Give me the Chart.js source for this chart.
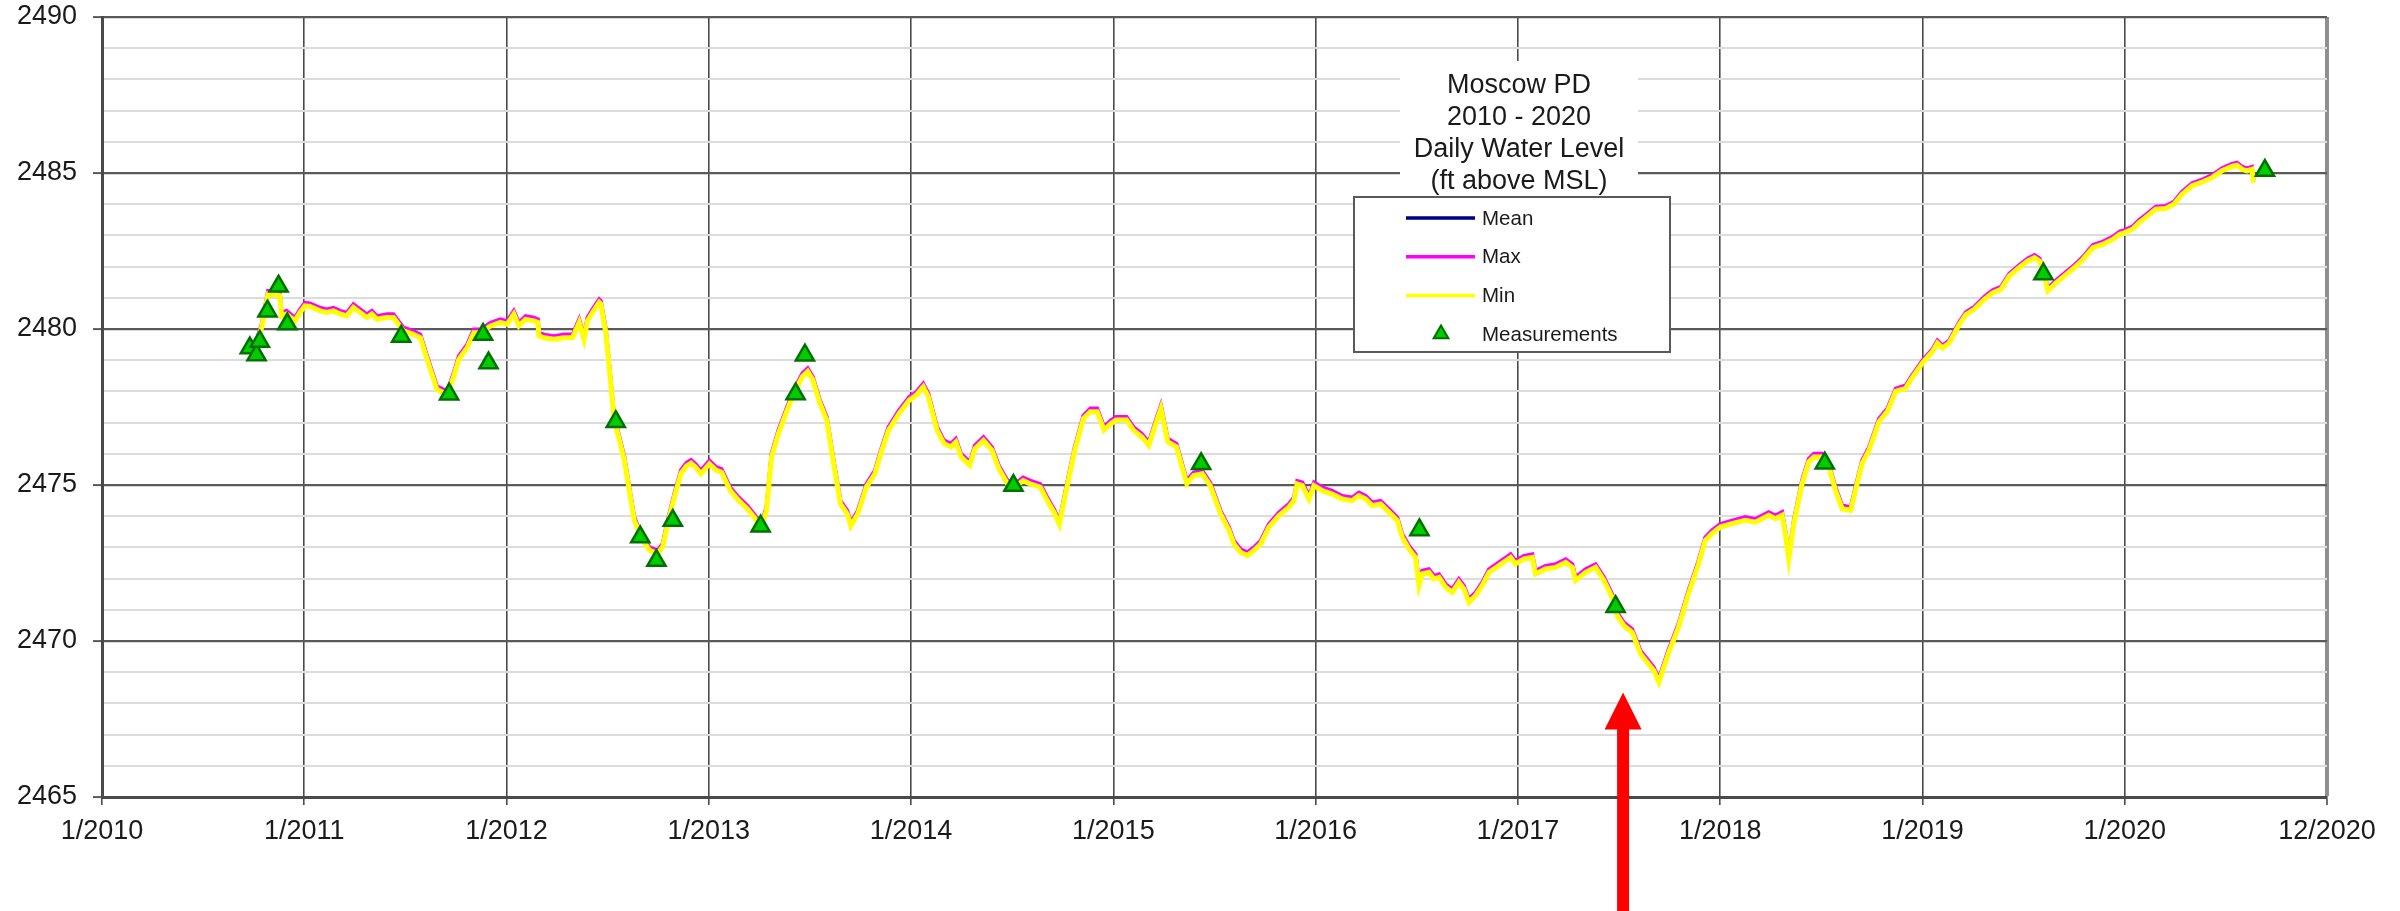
<!DOCTYPE html>
<html>
<head>
<meta charset="utf-8">
<title>Moscow PD Daily Water Level 2010 - 2020</title>
<script src="https://cdn.jsdelivr.net/npm/chart.js@4.4.1/dist/chart.umd.min.js"></script>
<style>
  html, body { margin: 0; padding: 0; background: #ffffff; }
  #wrap { width: 2400px; height: 911px; position: relative; }
</style>
</head>
<body>
<div id="wrap"><canvas id="chart" width="2400" height="911"></canvas></div>
<script>
// Dates as decimal years
const dayYears = [
  2010.770, 2010.790, 2010.821, 2010.850, 2010.879, 2010.888, 2010.912, 2010.954, 2010.979, 2011.003,
  2011.028, 2011.078, 2011.111, 2011.144, 2011.177, 2011.210, 2011.243, 2011.276, 2011.309, 2011.334,
  2011.359, 2011.408, 2011.441, 2011.466, 2011.491, 2011.540, 2011.574, 2011.607, 2011.656, 2011.706,
  2011.739, 2011.764, 2011.805, 2011.838, 2011.871, 2011.921, 2011.970, 2012.003, 2012.036, 2012.061,
  2012.094, 2012.136, 2012.155, 2012.160, 2012.185, 2012.235, 2012.284, 2012.326, 2012.359, 2012.383,
  2012.400, 2012.425, 2012.458, 2012.466, 2012.491, 2012.532, 2012.582, 2012.631, 2012.664, 2012.706,
  2012.747, 2012.772, 2012.797, 2012.830, 2012.863, 2012.890, 2012.912, 2012.935, 2012.961, 2013.003,
  2013.037, 2013.063, 2013.106, 2013.148, 2013.191, 2013.225, 2013.259, 2013.285, 2013.310, 2013.344,
  2013.387, 2013.429, 2013.463, 2013.489, 2013.514, 2013.549, 2013.583, 2013.617, 2013.651, 2013.685,
  2013.702, 2013.736, 2013.779, 2013.821, 2013.855, 2013.889, 2013.940, 2013.991, 2014.026, 2014.060,
  2014.085, 2014.128, 2014.162, 2014.196, 2014.221, 2014.247, 2014.290, 2014.315, 2014.358, 2014.400,
  2014.434, 2014.477, 2014.511, 2014.554, 2014.588, 2014.639, 2014.673, 2014.707, 2014.733, 2014.767,
  2014.809, 2014.852, 2014.886, 2014.920, 2014.954, 2014.988, 2015.014, 2015.065, 2015.099, 2015.141,
  2015.175, 2015.210, 2015.235, 2015.269, 2015.312, 2015.363, 2015.397, 2015.440, 2015.480, 2015.500,
  2015.530, 2015.572, 2015.596, 2015.629, 2015.662, 2015.695, 2015.728, 2015.769, 2015.819, 2015.868,
  2015.893, 2015.909, 2015.934, 2015.967, 2015.992, 2016.033, 2016.082, 2016.132, 2016.181, 2016.214,
  2016.247, 2016.280, 2016.321, 2016.362, 2016.404, 2016.428, 2016.461, 2016.494, 2016.511, 2016.527,
  2016.560, 2016.585, 2016.610, 2016.643, 2016.675, 2016.708, 2016.733, 2016.758, 2016.791, 2016.824,
  2016.857, 2016.906, 2016.964, 2016.988, 2017.030, 2017.071, 2017.087, 2017.137, 2017.186, 2017.236,
  2017.269, 2017.285, 2017.335, 2017.384, 2017.425, 2017.466, 2017.491, 2017.524, 2017.565, 2017.606,
  2017.639, 2017.672, 2017.697, 2017.721, 2017.746, 2017.793, 2017.843, 2017.893, 2017.926, 2017.959,
  2018.000, 2018.058, 2018.124, 2018.174, 2018.240, 2018.273, 2018.306, 2018.322, 2018.339, 2018.364,
  2018.405, 2018.438, 2018.463, 2018.504, 2018.537, 2018.570, 2018.603, 2018.645, 2018.669, 2018.702,
  2018.736, 2018.785, 2018.826, 2018.868, 2018.917, 2018.942, 2019.000, 2019.050, 2019.074, 2019.099,
  2019.132, 2019.182, 2019.215, 2019.256, 2019.306, 2019.347, 2019.388, 2019.430, 2019.479, 2019.521,
  2019.554, 2019.579, 2019.603, 2019.620, 2019.661, 2019.711, 2019.752, 2019.793, 2019.843, 2019.893,
  2019.942, 2019.975, 2020.000, 2020.038, 2020.071, 2020.103, 2020.153, 2020.202, 2020.243, 2020.284,
  2020.333, 2020.383, 2020.432, 2020.481, 2020.530, 2020.555, 2020.580, 2020.604, 2020.629, 2020.637
];

// Daily mean water level (ft above MSL)
const meanLevel = [
  2479.70, 2480.10, 2481.16, 2481.14, 2481.11, 2480.46, 2480.52, 2480.30, 2480.57, 2480.78,
  2480.76, 2480.62, 2480.57, 2480.62, 2480.52, 2480.46, 2480.73, 2480.57, 2480.41, 2480.52,
  2480.35, 2480.41, 2480.41, 2480.19, 2479.98, 2479.87, 2479.76, 2479.07, 2478.10, 2477.94,
  2478.53, 2479.07, 2479.44, 2479.92, 2479.92, 2480.14, 2480.25, 2480.19, 2480.52, 2480.14,
  2480.35, 2480.30, 2480.25, 2479.82, 2479.76, 2479.71, 2479.76, 2479.76, 2480.25, 2479.71,
  2480.30, 2480.57, 2480.89, 2480.84, 2479.92, 2477.14, 2475.85, 2473.92, 2473.38, 2472.95,
  2472.84, 2473.06, 2473.81, 2474.67, 2475.42, 2475.65, 2475.74, 2475.61, 2475.40, 2475.72,
  2475.51, 2475.45, 2474.86, 2474.54, 2474.27, 2474.00, 2473.68, 2474.22, 2475.94, 2476.69,
  2477.44, 2478.09, 2478.52, 2478.68, 2478.41, 2477.66, 2477.12, 2475.72, 2474.43, 2474.11,
  2473.73, 2474.11, 2474.97, 2475.40, 2476.15, 2476.80, 2477.33, 2477.76, 2477.92, 2478.19,
  2477.87, 2476.80, 2476.37, 2476.26, 2476.42, 2475.94, 2475.67, 2476.20, 2476.47, 2476.15,
  2475.56, 2475.08, 2474.97, 2475.18, 2475.08, 2474.97, 2474.54, 2474.16, 2473.78, 2474.86,
  2476.15, 2477.17, 2477.39, 2477.39, 2476.80, 2477.01, 2477.12, 2477.12, 2476.80, 2476.58,
  2476.31, 2477.01, 2477.49, 2476.42, 2476.26, 2475.08, 2475.34, 2475.40, 2475.00, 2474.65,
  2474.11, 2473.58, 2473.15, 2472.88, 2472.78, 2472.94, 2473.15, 2473.69, 2474.06, 2474.33,
  2474.54, 2475.07, 2475.02, 2474.59, 2475.02, 2474.86, 2474.75, 2474.59, 2474.54, 2474.70,
  2474.59, 2474.38, 2474.43, 2474.17, 2473.90, 2473.37, 2472.99, 2472.72, 2471.82, 2472.19,
  2472.24, 2472.03, 2472.08, 2471.76, 2471.60, 2471.92, 2471.71, 2471.28, 2471.50, 2471.82,
  2472.24, 2472.46, 2472.72, 2472.51, 2472.67, 2472.72, 2472.19, 2472.35, 2472.40, 2472.56,
  2472.40, 2471.98, 2472.24, 2472.40, 2471.98, 2471.44, 2470.85, 2470.53, 2470.32, 2469.63,
  2469.36, 2469.09, 2468.72, 2469.20, 2469.68, 2470.47, 2471.55, 2472.51, 2473.26, 2473.48,
  2473.69, 2473.80, 2473.91, 2473.85, 2474.07, 2473.96, 2474.07, 2473.48, 2472.67, 2473.80,
  2475.09, 2475.78, 2475.94, 2475.94, 2475.62, 2474.87, 2474.28, 2474.23, 2474.87, 2475.73,
  2476.16, 2477.07, 2477.39, 2478.04, 2478.14, 2478.41, 2478.95, 2479.32, 2479.59, 2479.43,
  2479.59, 2480.18, 2480.50, 2480.67, 2480.99, 2481.20, 2481.31, 2481.74, 2482.01, 2482.22,
  2482.33, 2482.22, 2481.74, 2481.26, 2481.52, 2481.79, 2482.01, 2482.27, 2482.65, 2482.76,
  2482.92, 2483.08, 2483.13, 2483.24, 2483.45, 2483.61, 2483.88, 2483.90, 2484.04, 2484.36,
  2484.63, 2484.75, 2484.89, 2485.11, 2485.25, 2485.29, 2485.16, 2485.11, 2485.16, 2484.73
];

// Daily maximum water level (ft above MSL)
const maxLevel = [
  2479.76, 2480.16, 2481.22, 2481.20, 2481.17, 2480.52, 2480.58, 2480.36, 2480.63, 2480.84,
  2480.82, 2480.68, 2480.63, 2480.68, 2480.58, 2480.52, 2480.79, 2480.63, 2480.47, 2480.58,
  2480.41, 2480.47, 2480.47, 2480.25, 2480.04, 2479.93, 2479.82, 2479.13, 2478.16, 2478.00,
  2478.59, 2479.13, 2479.50, 2479.98, 2479.98, 2480.20, 2480.31, 2480.25, 2480.58, 2480.20,
  2480.41, 2480.36, 2480.31, 2479.88, 2479.82, 2479.77, 2479.82, 2479.82, 2480.31, 2479.77,
  2480.36, 2480.63, 2480.95, 2480.90, 2479.98, 2477.20, 2475.91, 2473.98, 2473.44, 2473.01,
  2472.90, 2473.12, 2473.87, 2474.73, 2475.48, 2475.71, 2475.80, 2475.67, 2475.46, 2475.78,
  2475.57, 2475.51, 2474.92, 2474.60, 2474.33, 2474.06, 2473.74, 2474.28, 2476.00, 2476.75,
  2477.50, 2478.15, 2478.58, 2478.74, 2478.47, 2477.72, 2477.18, 2475.78, 2474.49, 2474.17,
  2473.79, 2474.17, 2475.03, 2475.46, 2476.21, 2476.86, 2477.39, 2477.82, 2477.98, 2478.25,
  2477.93, 2476.86, 2476.43, 2476.32, 2476.48, 2476.00, 2475.73, 2476.26, 2476.53, 2476.21,
  2475.62, 2475.14, 2475.03, 2475.24, 2475.14, 2475.03, 2474.60, 2474.22, 2473.84, 2474.92,
  2476.21, 2477.23, 2477.45, 2477.45, 2476.86, 2477.07, 2477.18, 2477.18, 2476.86, 2476.64,
  2476.37, 2477.07, 2477.55, 2476.48, 2476.32, 2475.14, 2475.40, 2475.46, 2475.06, 2474.71,
  2474.17, 2473.64, 2473.21, 2472.94, 2472.84, 2473.00, 2473.21, 2473.75, 2474.12, 2474.39,
  2474.60, 2475.13, 2475.08, 2474.65, 2475.08, 2474.92, 2474.81, 2474.65, 2474.60, 2474.76,
  2474.65, 2474.44, 2474.49, 2474.23, 2473.96, 2473.43, 2473.05, 2472.78, 2471.88, 2472.25,
  2472.30, 2472.09, 2472.14, 2471.82, 2471.66, 2471.98, 2471.77, 2471.34, 2471.56, 2471.88,
  2472.30, 2472.52, 2472.78, 2472.57, 2472.73, 2472.78, 2472.25, 2472.41, 2472.46, 2472.62,
  2472.46, 2472.04, 2472.30, 2472.46, 2472.04, 2471.50, 2470.91, 2470.59, 2470.38, 2469.69,
  2469.42, 2469.15, 2468.78, 2469.26, 2469.74, 2470.53, 2471.61, 2472.57, 2473.32, 2473.54,
  2473.75, 2473.86, 2473.97, 2473.91, 2474.13, 2474.02, 2474.13, 2473.54, 2472.73, 2473.86,
  2475.15, 2475.84, 2476.00, 2476.00, 2475.68, 2474.93, 2474.34, 2474.29, 2474.93, 2475.79,
  2476.21, 2477.12, 2477.44, 2478.09, 2478.19, 2478.45, 2478.99, 2479.36, 2479.63, 2479.47,
  2479.63, 2480.22, 2480.54, 2480.71, 2481.03, 2481.24, 2481.35, 2481.78, 2482.05, 2482.26,
  2482.37, 2482.26, 2481.78, 2481.30, 2481.56, 2481.83, 2482.05, 2482.31, 2482.69, 2482.80,
  2482.96, 2483.12, 2483.17, 2483.28, 2483.49, 2483.65, 2483.92, 2483.94, 2484.08, 2484.40,
  2484.67, 2484.79, 2484.93, 2485.15, 2485.29, 2485.33, 2485.20, 2485.15, 2485.20, 2484.77
];

// Daily minimum water level (ft above MSL)
const minLevel = [
  2479.66, 2480.06, 2481.12, 2481.10, 2481.07, 2480.42, 2480.48, 2480.26, 2480.53, 2480.74,
  2480.72, 2480.58, 2480.53, 2480.58, 2480.48, 2480.42, 2480.69, 2480.53, 2480.37, 2480.48,
  2480.31, 2480.37, 2480.37, 2480.15, 2479.94, 2479.83, 2479.72, 2479.03, 2478.06, 2477.90,
  2478.49, 2479.03, 2479.40, 2479.88, 2479.88, 2480.10, 2480.21, 2480.15, 2480.48, 2480.10,
  2480.31, 2480.26, 2480.21, 2479.78, 2479.72, 2479.67, 2479.72, 2479.72, 2480.21, 2479.67,
  2480.26, 2480.53, 2480.85, 2480.80, 2479.88, 2477.10, 2475.81, 2473.88, 2473.34, 2472.91,
  2472.80, 2473.02, 2473.77, 2474.63, 2475.38, 2475.61, 2475.70, 2475.57, 2475.36, 2475.68,
  2475.47, 2475.41, 2474.82, 2474.50, 2474.23, 2473.96, 2473.64, 2474.18, 2475.90, 2476.65,
  2477.40, 2478.05, 2478.48, 2478.64, 2478.37, 2477.62, 2477.08, 2475.68, 2474.39, 2474.07,
  2473.69, 2474.07, 2474.93, 2475.36, 2476.11, 2476.76, 2477.29, 2477.72, 2477.88, 2478.15,
  2477.83, 2476.76, 2476.33, 2476.22, 2476.38, 2475.90, 2475.63, 2476.16, 2476.43, 2476.11,
  2475.52, 2475.04, 2474.93, 2475.14, 2475.04, 2474.93, 2474.50, 2474.12, 2473.74, 2474.82,
  2476.11, 2477.13, 2477.35, 2477.35, 2476.76, 2476.97, 2477.08, 2477.08, 2476.76, 2476.54,
  2476.27, 2476.97, 2477.45, 2476.38, 2476.22, 2475.04, 2475.30, 2475.36, 2474.96, 2474.61,
  2474.07, 2473.54, 2473.11, 2472.84, 2472.74, 2472.90, 2473.11, 2473.65, 2474.02, 2474.29,
  2474.50, 2475.03, 2474.98, 2474.55, 2474.98, 2474.82, 2474.71, 2474.55, 2474.50, 2474.66,
  2474.55, 2474.34, 2474.39, 2474.13, 2473.86, 2473.33, 2472.95, 2472.68, 2471.78, 2472.15,
  2472.20, 2471.99, 2472.04, 2471.72, 2471.56, 2471.88, 2471.67, 2471.24, 2471.46, 2471.78,
  2472.20, 2472.42, 2472.68, 2472.47, 2472.63, 2472.68, 2472.15, 2472.31, 2472.36, 2472.52,
  2472.36, 2471.94, 2472.20, 2472.36, 2471.94, 2471.40, 2470.81, 2470.49, 2470.28, 2469.59,
  2469.32, 2469.05, 2468.68, 2469.16, 2469.64, 2470.43, 2471.51, 2472.47, 2473.22, 2473.44,
  2473.65, 2473.76, 2473.87, 2473.81, 2474.03, 2473.92, 2474.03, 2473.44, 2472.63, 2473.76,
  2475.05, 2475.74, 2475.90, 2475.90, 2475.58, 2474.83, 2474.24, 2474.19, 2474.83, 2475.69,
  2476.12, 2477.03, 2477.35, 2478.00, 2478.10, 2478.37, 2478.91, 2479.28, 2479.55, 2479.39,
  2479.55, 2480.14, 2480.46, 2480.63, 2480.95, 2481.16, 2481.27, 2481.70, 2481.97, 2482.18,
  2482.29, 2482.18, 2481.70, 2481.22, 2481.48, 2481.75, 2481.97, 2482.23, 2482.61, 2482.72,
  2482.88, 2483.04, 2483.09, 2483.20, 2483.41, 2483.57, 2483.84, 2483.86, 2484.00, 2484.32,
  2484.59, 2484.71, 2484.85, 2485.07, 2485.21, 2485.25, 2485.12, 2485.07, 2485.12, 2484.69
];

// Field measurements
const measYears = [
  2010.731, 2010.764, 2010.780, 2010.818, 2010.873, 2010.916, 2011.479, 2011.716,
  2011.884, 2011.911, 2012.540, 2012.661, 2012.741, 2012.822, 2013.256, 2013.429,
  2013.475, 2014.506, 2015.434, 2016.513, 2017.483, 2018.517, 2019.598, 2020.693
];
const measLevels = [
  2479.39, 2479.17, 2479.60, 2480.57, 2481.37, 2480.16, 2479.76, 2477.91,
  2479.82, 2478.91, 2477.03, 2473.33, 2472.58, 2473.86, 2473.68, 2477.92,
  2479.16, 2474.98, 2475.68, 2473.56, 2471.10, 2475.70, 2481.76, 2485.08
];

// Axes
const xTickYears = [2010, 2011, 2012, 2013, 2014, 2015, 2016, 2017, 2018, 2019, 2020, 2021];
const xTickLabels = ['1/2010', '1/2011', '1/2012', '1/2013', '1/2014', '1/2015',
                     '1/2016', '1/2017', '1/2018', '1/2019', '1/2020', '12/2020'];
const yLabelValues = [2465, 2470, 2475, 2480, 2485, 2490];

const titleLines = ['Moscow PD', '2010 - 2020', 'Daily Water Level', '(ft above MSL)'];

// Red pointer below the 2017 low
const arrowYear = 2017.52;
const arrowTipLevel = 2468.35;

const FONT = "'Liberation Sans', Arial, Helvetica, sans-serif";

function pairs(xs, ys) {
  return xs.map((x, i) => ({ x: x, y: ys[i] }));
}

function trianglePath(ctx, x, y, r) {
  const h = Math.sqrt(3) / 2 * r;
  ctx.beginPath();
  ctx.moveTo(x, y - r);
  ctx.lineTo(x + h, y + r / 2);
  ctx.lineTo(x - h, y + r / 2);
  ctx.closePath();
}

const overlayPlugin = {
  id: 'overlay',
  afterDraw(chart) {
    const ctx = chart.ctx;
    const xs = chart.scales.x, ys = chart.scales.y;
    ctx.save();

    // title block
    ctx.fillStyle = '#ffffff';
    ctx.fillRect(1400, 61, 238, 136);
    ctx.fillStyle = '#1a1a1a';
    ctx.font = '27px ' + FONT;
    ctx.textAlign = 'center';
    ctx.textBaseline = 'middle';
    titleLines.forEach((t, i) => ctx.fillText(t, 1519, 86 + i * 31.8));

    // legend box
    const lx = 1354, ly = 197, lw = 316, lh = 155;
    ctx.fillStyle = '#ffffff';
    ctx.fillRect(lx, ly, lw, lh);
    ctx.strokeStyle = '#5a5a5a';
    ctx.lineWidth = 2;
    ctx.strokeRect(lx, ly, lw, lh);
    ctx.font = '20.5px ' + FONT;
    ctx.textAlign = 'left';
    chart.data.datasets.forEach((ds, i) => {
      const cy = 218 + i * 38.7;
      if (ds.showLine === false) {
        trianglePath(ctx, 1441, cy, 8.5);
        ctx.fillStyle = ds.backgroundColor;
        ctx.fill();
        ctx.lineWidth = 2;
        ctx.strokeStyle = ds.borderColor;
        ctx.stroke();
      } else {
        ctx.beginPath();
        ctx.moveTo(1406, cy);
        ctx.lineTo(1475, cy);
        ctx.lineWidth = 3.5;
        ctx.strokeStyle = ds.borderColor;
        ctx.stroke();
      }
      ctx.fillStyle = '#1a1a1a';
      ctx.fillText(ds.label, 1482, cy + 1);
    });

    // red pointer arrow
    const ax = xs.getPixelForValue(arrowYear);
    const ay = ys.getPixelForValue(arrowTipLevel);
    const headH = 37, headW = 37, shaftW = 12;
    ctx.fillStyle = '#ff0000';
    ctx.beginPath();
    ctx.moveTo(ax, ay);
    ctx.lineTo(ax + headW / 2, ay + headH);
    ctx.lineTo(ax + shaftW / 2, ay + headH);
    ctx.lineTo(ax + shaftW / 2, chart.height);
    ctx.lineTo(ax - shaftW / 2, chart.height);
    ctx.lineTo(ax - shaftW / 2, ay + headH);
    ctx.lineTo(ax - headW / 2, ay + headH);
    ctx.closePath();
    ctx.fill();

    ctx.restore();
  }
};

new Chart(document.getElementById('chart'), {
  type: 'line',
  data: {
    datasets: [
      {
        label: 'Mean',
        data: pairs(dayYears, meanLevel),
        borderColor: '#000080',
        borderWidth: 3,
        pointRadius: 0,
        tension: 0,
        order: 3
      },
      {
        label: 'Max',
        data: pairs(dayYears, maxLevel),
        borderColor: '#ff00ff',
        borderWidth: 4,
        pointRadius: 0,
        tension: 0,
        order: 2
      },
      {
        label: 'Min',
        data: pairs(dayYears, minLevel),
        borderColor: '#ffff00',
        borderWidth: 5,
        pointRadius: 0,
        tension: 0,
        order: 1
      },
      {
        label: 'Measurements',
        type: 'scatter',
        data: pairs(measYears, measLevels),
        showLine: false,
        pointStyle: 'triangle',
        pointRadius: 10.5,
        pointHoverRadius: 10.5,
        pointBorderWidth: 2.5,
        backgroundColor: '#00cc00',
        borderColor: '#007000',
        order: 0
      }
    ]
  },
  options: {
    responsive: false,
    animation: false,
    devicePixelRatio: 1,
    layout: { padding: { left: 0, right: 73, top: 17, bottom: 0 } },
    plugins: {
      legend: { display: false },
      title: { display: false },
      tooltip: { enabled: false }
    },
    scales: {
      x: {
        type: 'linear',
        min: 2010,
        max: 2021,
        afterFit(scale) {
          scale.height = 114;
          scale.paddingLeft = 0;
          scale.paddingRight = 0;
        },
        afterBuildTicks(scale) {
          scale.ticks = xTickYears.map(v => ({ value: v }));
        },
        ticks: {
          autoSkip: false,
          maxRotation: 0,
          padding: 10,
          color: '#1a1a1a',
          font: { family: FONT, size: 27 },
          callback(value) {
            const i = xTickYears.indexOf(value);
            return i >= 0 ? xTickLabels[i] : '';
          }
        },
        grid: {
          drawTicks: true,
          tickLength: 8,
          color(ctx) {
            return ctx.tick && ctx.tick.value === 2021 ? '#8f8f8f' : '#4a4a4a';
          },
          lineWidth(ctx) {
            if (!ctx.tick) return 1.6;
            if (ctx.tick.value === 2021) return 4;
            return 1.6;
          },
          tickColor: '#4a4a4a',
          tickWidth: 1.6
        },
        border: { display: true, color: '#4a4a4a', width: 3 }
      },
      y: {
        type: 'linear',
        min: 2465,
        max: 2490,
        afterFit(scale) {
          scale.width = 102;
          scale.paddingTop = 0;
          scale.paddingBottom = 0;
        },
        ticks: {
          stepSize: 1,
          autoSkip: false,
          padding: 16,
          color: '#1a1a1a',
          font: { family: FONT, size: 27 },
          callback(value) {
            return yLabelValues.includes(value) ? String(value) : '';
          }
        },
        grid: {
          drawTicks: true,
          tickLength: 9,
          color(ctx) {
            return ctx.tick && ctx.tick.value % 5 === 0 ? '#5a5a5a' : '#dcdcdc';
          },
          lineWidth(ctx) {
            return ctx.tick && ctx.tick.value % 5 === 0 ? 2.2 : 2;
          },
          tickColor(ctx) {
            return ctx.tick && ctx.tick.value % 5 === 0 ? '#5a5a5a' : 'rgba(0,0,0,0)';
          },
          tickWidth: 2
        },
        border: { display: true, color: '#4a4a4a', width: 3 }
      }
    }
  },
  plugins: [overlayPlugin]
});
</script>
</body>
</html>
